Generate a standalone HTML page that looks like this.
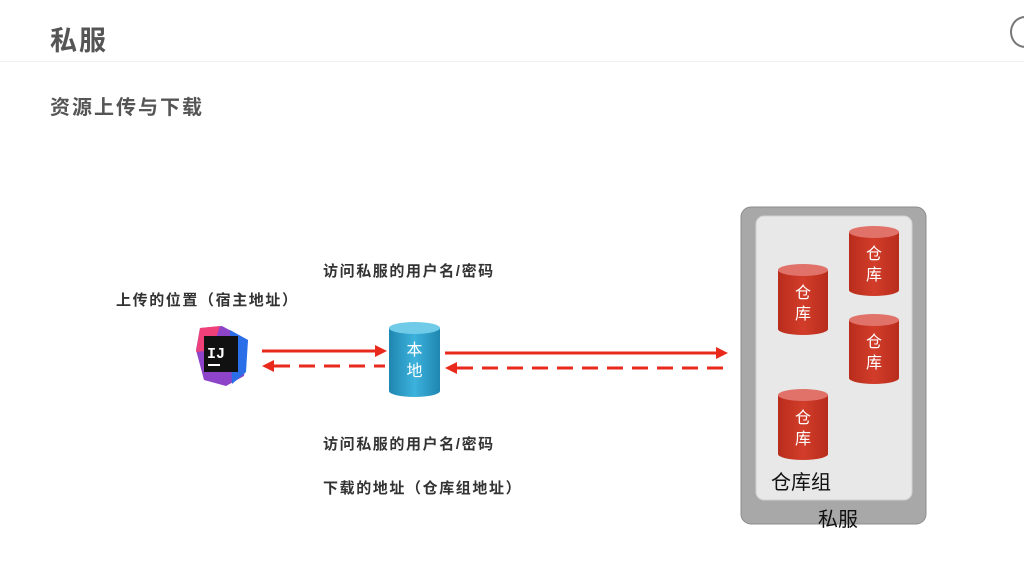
<!DOCTYPE html>
<html><head><meta charset="utf-8"><style>
body{margin:0;width:1024px;height:577px;background:#fff;position:relative;overflow:hidden;font-family:"Liberation Sans","Noto Sans CJK SC",sans-serif}
.t{position:absolute;white-space:nowrap}
.lbl{font-size:15px;font-weight:bold;color:#333;letter-spacing:1.6px}
.cyl{position:absolute;width:50px;color:#fff;text-align:center;font-size:16px;line-height:21px}
</style></head><body>
<div class="t" style="left:50px;top:19px;font-size:27px;font-weight:bold;color:#555;letter-spacing:2px">私服</div>
<div style="position:absolute;left:0;top:61px;width:1024px;height:1px;background:#f0f0f0"></div>
<div style="position:absolute;left:1010px;top:16px;width:26px;height:28px;border:2px solid #777;border-radius:50%"></div>
<div class="t" style="left:50px;top:91px;font-size:20px;font-weight:bold;color:#555;letter-spacing:2px">资源上传与下载</div>
<div class="t lbl" style="left:323px;top:260px">访问私服的用户名/密码</div>
<div class="t lbl" style="left:116px;top:289px">上传的位置（宿主地址）</div>
<div class="t lbl" style="left:323px;top:433px">访问私服的用户名/密码</div>
<div class="t lbl" style="left:323px;top:477px">下载的地址（仓库组地址）</div>
<svg width="1024" height="577" style="position:absolute;left:0;top:0">
<defs>
<linearGradient id="b" x1="0" x2="1"><stop offset="0" stop-color="#1f86b0"/><stop offset=".5" stop-color="#3cb2dc"/><stop offset="1" stop-color="#1f86b0"/></linearGradient>
<linearGradient id="r" x1="0" x2="1"><stop offset="0" stop-color="#b82c1c"/><stop offset=".5" stop-color="#d23d2a"/><stop offset="1" stop-color="#b82c1c"/></linearGradient>
</defs>
<polygon points="200,328 222,326 248,340 244,376 226,386 204,380 196,350" fill="#8e44c8"/>
<polygon points="200,328 220,326 212,350 196,352" fill="#f0407a"/>
<polygon points="230,330 248,340 246,372 232,384" fill="#2a6ee8"/>
<rect x="204" y="336" width="34" height="36" fill="#111"/>
<text x="207" y="358" fill="#fff" font-size="15" font-weight="bold" font-family="Liberation Mono">IJ</text>
<rect x="208" y="364" width="12" height="2" fill="#fff"/>
<g stroke="#e8291c" stroke-width="3" fill="#e8291c">
<line x1="262" y1="351" x2="377" y2="351"/><polygon points="387,351 375,345 375,357" stroke="none"/>
<line x1="274" y1="366" x2="385" y2="366" stroke-dasharray="16,9"/><polygon points="262,366 274,360 274,372" stroke="none"/>
<line x1="445" y1="353" x2="717" y2="353"/><polygon points="728,353 716,347 716,359" stroke="none"/>
<line x1="457" y1="368" x2="727" y2="368" stroke-dasharray="16,9"/><polygon points="445,368 457,362 457,374" stroke="none"/>
</g>
<path d="M389,328 v63 a25.5,6 0 0 0 51,0 v-63 z" fill="url(#b)"/>
<ellipse cx="414.5" cy="328" rx="25.5" ry="6" fill="#6fcbe8"/>
<rect x="741" y="207" width="185" height="317" rx="10" fill="#a8a8a8" stroke="#8c8c8c"/>
<rect x="756" y="216" width="156" height="284" rx="8" fill="#e8e8e8" stroke="#cfcfcf"/>
<g>
<path d="M778,270 v59 a25,6 0 0 0 50,0 v-59 z" fill="url(#r)"/><ellipse cx="803" cy="270" rx="25" ry="6" fill="#e0726a"/>
<path d="M849,232 v58 a25,6 0 0 0 50,0 v-58 z" fill="url(#r)"/><ellipse cx="874" cy="232" rx="25" ry="6" fill="#e0726a"/>
<path d="M849,320 v58 a25,6 0 0 0 50,0 v-58 z" fill="url(#r)"/><ellipse cx="874" cy="320" rx="25" ry="6" fill="#e0726a"/>
<path d="M778,395 v59 a25,6 0 0 0 50,0 v-59 z" fill="url(#r)"/><ellipse cx="803" cy="395" rx="25" ry="6" fill="#e0726a"/>
</g>
</svg>
<div class="cyl" style="left:389px;width:51px;top:340px">本<br>地</div>
<div class="cyl" style="left:778px;top:283px">仓<br>库</div>
<div class="cyl" style="left:849px;top:244px">仓<br>库</div>
<div class="cyl" style="left:849px;top:332px">仓<br>库</div>
<div class="cyl" style="left:778px;top:408px">仓<br>库</div>
<div class="t" style="left:771px;top:466px;font-size:20px;color:#111">仓库组</div>
<div class="t" style="left:818px;top:503px;font-size:20px;color:#111">私服</div>
</body></html>
